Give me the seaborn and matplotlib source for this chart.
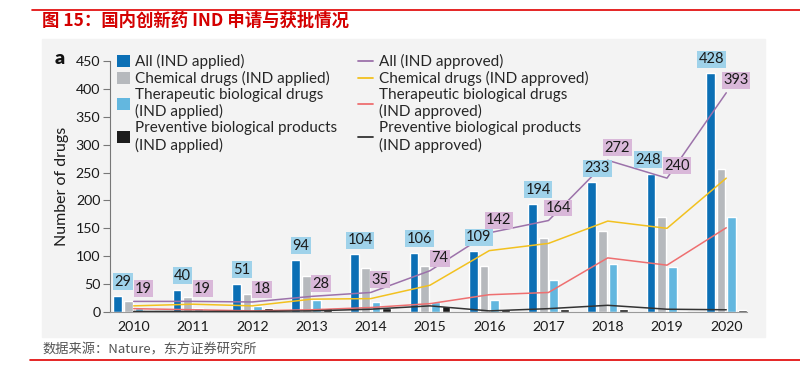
import numpy as np
import pandas as pd
import matplotlib
matplotlib.use("Agg")
import matplotlib.pyplot as plt
from matplotlib.patches import Patch, Rectangle
from matplotlib.lines import Line2D
import seaborn as sns

years = ["2010", "2011", "2012", "2013", "2014", "2015", "2016", "2017", "2018", "2019", "2020"]

# IND applied (bars)
all_applied = [29, 40, 51, 94, 104, 106, 109, 194, 233, 248, 428]
chem_applied = [20, 27, 33, 64, 78, 82, 82, 132, 145, 171, 256]
thera_applied = [7, 8, 11, 22, 18, 18, 21, 58, 86, 80, 171]
prev_applied = [4, 3, 7, 8, 8, 10, 5, 6, 5, 1, 3]

# IND approved (lines)
all_approved = [19, 19, 18, 28, 35, 74, 142, 164, 272, 240, 393]
chem_approved = [11, 14, 11, 23, 24, 48, 110, 123, 163, 150, 240]
thera_approved = [6, 4, 2, 4, 8, 15, 31, 35, 97, 84, 151]
prev_approved = [1, 1, 1, 2, 5, 11, 2, 6, 12, 5, 4]

bar_labels = ["All (IND applied)", "Chemical drugs (IND applied)",
              "Therapeutic biological drugs\n(IND applied)",
              "Preventive biological products\n(IND applied)"]
line_labels = ["All (IND approved)", "Chemical drugs (IND approved)",
               "Therapeutic biological drugs\n(IND approved)",
               "Preventive biological products\n(IND approved)"]

bar_colors = ["#0b6fb5", "#b6b9bd", "#63b7df", "#1c1c1c"]
line_colors = ["#9c72aa", "#f2c11f", "#ee6f70", "#333333"]

sns.set_style("white")
plt.rcParams["font.family"] = ["Lato", "Noto Sans CJK SC", "DejaVu Sans"]

bars = pd.DataFrame({
    "year": years * 4,
    "value": all_applied + chem_applied + thera_applied + prev_applied,
    "series": sum([[s] * len(years) for s in bar_labels], []),
})

fig = plt.figure(figsize=(8, 3.81), dpi=100)
# gray panel behind the chart
panel = Rectangle((42 / 800, 1 - 337 / 381), (765 - 42) / 800, (337 - 39) / 381,
                  transform=fig.transFigure, color="#f3f3f3", zorder=-10)
fig.add_artist(panel)
ax = fig.add_axes([110 / 800, 1 - 312 / 381, (747 - 110) / 800, (312 - 61) / 381])
ax.set_facecolor("none")
ax.set_zorder(2)

sns.barplot(data=bars, x="year", y="value", hue="series", palette=bar_colors,
            width=0.72, gap=0.18, saturation=1, legend=False, ax=ax, zorder=2)

xpos = np.arange(len(years))
for vals, c in zip([chem_approved, thera_approved, prev_approved, all_approved],
                   [line_colors[1], line_colors[2], line_colors[3], line_colors[0]]):
    sns.lineplot(x=xpos, y=vals, color=c, lw=1.1, ax=ax, zorder=3)

# value labels (a couple nudged sideways like the original)
blue_dx = {9: -2, 10: 1}
for i, v in enumerate(all_applied):
    ax.annotate(str(v), (i - 0.27, v), xytext=(blue_dx.get(i, 4), 5), textcoords="offset points",
                ha="center", va="bottom", fontsize=10.5, color="#1a1a1a", zorder=5,
                bbox=dict(boxstyle="square,pad=0.1", fc="#9fd2ea", ec="none"))
for i, v in enumerate(all_approved):
    ax.annotate(str(v), (i, v), xytext=(7, 4), textcoords="offset points",
                ha="center", va="bottom", fontsize=10.5, color="#1a1a1a", zorder=5,
                bbox=dict(boxstyle="square,pad=0.1", fc="#d9b8d9", ec="none"))

ax.set_ylim(0, 450)
ax.set_xlim(-0.40, 10.35)
ax.set_yticks(range(0, 451, 50))
ax.set_xlabel("")
ax.set_ylabel("Number of drugs", fontsize=11.5, color="#1a1a1a", labelpad=5)
sns.despine(ax=ax, top=True, right=True)
ax.spines["left"].set_color("#777777")
ax.spines["bottom"].set_color("#999999")
ax.tick_params(axis="y", left=True, length=5, color="#777777", labelsize=10.2, labelcolor="#1a1a1a", pad=2)
ax.tick_params(axis="x", bottom=False, labelsize=10.2, labelcolor="#1a1a1a", pad=3)

fig.text(55 / 800, 1 - 59 / 381, "a", fontsize=14, fontweight="heavy", va="center", color="#111111")

h1 = [Patch(facecolor=c, edgecolor="none") for c in bar_colors]
fig.legend(h1, bar_labels, loc="upper left", bbox_to_anchor=(117 / 800, 1 - 54 / 381),
           frameon=False, fontsize=11, handlelength=0.85, handleheight=0.85, handletextpad=0.3,
           labelspacing=0.12, borderpad=0, borderaxespad=0)
h2 = [Line2D([], [], color=c, lw=1.3) for c in line_colors]
fig.legend(h2, line_labels, loc="upper left", bbox_to_anchor=(358 / 800, 1 - 54 / 381),
           frameon=False, fontsize=11, handlelength=1.0, handletextpad=0.4,
           labelspacing=0.12, borderpad=0, borderaxespad=0)

# header / footer
fig.add_artist(Line2D([32 / 800, 1], [1 - 10 / 381] * 2, color="#e00000", lw=1.2))
fig.text(42 / 800, 1 - 21 / 381, "图 15：国内创新药 IND 申请与获批情况", fontsize=12.5,
         fontweight="bold", color="#d40000", va="center",
         family=["Noto Sans CJK SC", "DejaVu Sans"])
fig.text(42 / 800, 1 - 350 / 381, "数据来源：Nature，东方证券研究所", fontsize=9.5,
         color="#555555", va="center", family=["Noto Sans CJK SC", "DejaVu Sans"])
fig.add_artist(Line2D([30 / 800, 1], [1 - 360 / 381] * 2, color="#e00000", lw=1.2))

fig.savefig("out.png", dpi=100)
